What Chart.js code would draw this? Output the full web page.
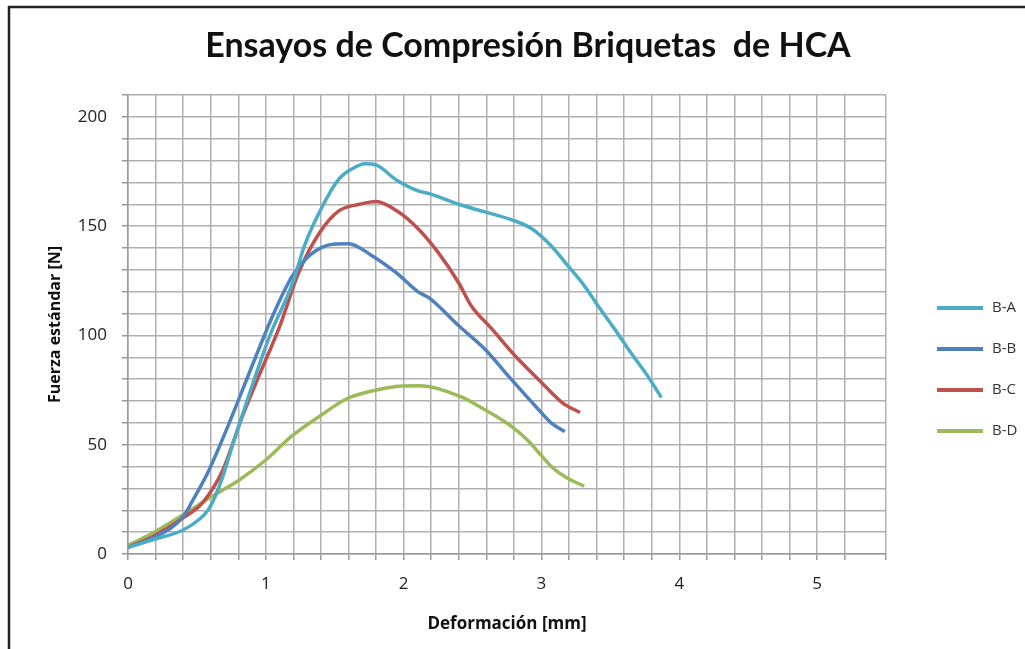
<!DOCTYPE html>
<html>
<head>
<meta charset="utf-8">
<script src="https://cdn.jsdelivr.net/npm/chart.js@4/dist/chart.umd.min.js"></script>
<style>
  html, body { margin: 0; padding: 0; background: #fff; }
  #wrap { width: 1025px; height: 649px; }
</style>
</head>
<body>
<div id="wrap"><canvas id="chart" width="1025" height="649"></canvas></div>
<script>
// Curves (deformation mm -> force N)
const seriesNames = ["B-A", "B-B", "B-C", "B-D"];
const seriesColors = ["#4bacc6", "#4f81bd", "#c0504d", "#9bbb59"];

const baX = [0, 0.18, 0.40, 0.52, 0.58, 0.63, 0.68, 0.75, 0.906, 1.03, 1.195, 1.28, 1.41, 1.53, 1.62, 1.72, 1.80, 1.95, 2.11, 2.18, 2.40, 2.59, 2.78, 2.93, 3.07, 3.19, 3.31, 3.41, 3.53, 3.65, 3.77, 3.87];
const baY = [3, 6.5, 11, 16, 20, 26, 34, 48, 78, 100, 124, 141, 159, 171.5, 176, 178.6, 178, 171, 166, 165, 160, 156.5, 153, 148.8, 141, 132, 122.8, 113.6, 103, 92, 81.5, 71.6];

const bbX = [0, 0.18, 0.40, 0.46, 0.59, 0.735, 0.90, 1.05, 1.19, 1.29, 1.41, 1.50, 1.60, 1.77, 1.95, 2.11, 2.18, 2.40, 2.59, 2.78, 2.98, 3.07, 3.17];
const bbY = [3, 7.3, 17, 23.4, 38.7, 60, 86, 109, 127, 135, 140.4, 141.8, 142, 136.5, 128.5, 119.7, 117.4, 104.4, 93.7, 80, 66, 60, 56];

const bcX = [0, 0.18, 0.40, 0.54, 0.69, 0.83, 0.95, 1.10, 1.24, 1.39, 1.53, 1.68, 1.80, 1.95, 2.11, 2.25, 2.40, 2.49, 2.64, 2.81, 3.00, 3.15, 3.28];
const bcY = [3, 8, 16.5, 23.4, 38.7, 63, 81.5, 104, 129, 147, 157, 160, 161.3, 157, 148.5, 138, 124, 113.6, 103, 90.6, 78.5, 69.3, 64.7];

const bdX = [0, 0.18, 0.42, 0.61, 0.81, 1.0, 1.19, 1.39, 1.58, 1.77, 1.99, 2.11, 2.40, 2.59, 2.78, 2.90, 3.00, 3.08, 3.18, 3.31];
const bdY = [4, 9.6, 18.8, 26.4, 34, 43, 54, 63, 70.8, 74.6, 76.9, 77, 72.3, 66, 58.5, 52, 45, 39.5, 35, 31];

const xTickLabels = ["0", "1", "2", "3", "4", "5"];
const yTickLabels = ["0", "50", "100", "150", "200"];

const chartTitle = "Ensayos de Compresión Briquetas  de HCA";
const xTitle = "Deformación [mm]";
const yTitle = "Fuerza estándar [N]";

function toPoints(xs, ys) {
  return xs.map((x, i) => ({ x, y: ys[i] }));
}

const seriesData = [toPoints(baX, baY), toPoints(bbX, bbY), toPoints(bcX, bcY), toPoints(bdX, bdY)];

// Frame, title and legend are drawn by hand so they can sit where Excel put them.
const decorations = {
  id: "decorations",
  beforeDraw(chart) {
    const ctx = chart.ctx;
    ctx.save();
    ctx.fillStyle = "#fff";
    ctx.fillRect(0, 0, chart.width, chart.height);
    ctx.strokeStyle = "#222";
    ctx.lineWidth = 2.5;
    ctx.beginPath();
    ctx.moveTo(9, chart.height);
    ctx.lineTo(9, 7);
    ctx.lineTo(chart.width, 7);
    ctx.stroke();
    ctx.restore();
  },
  afterDraw(chart) {
    const ctx = chart.ctx;
    ctx.save();
    ctx.fillStyle = "#111";
    ctx.font = "bold 34px Lato";
    ctx.textAlign = "center";
    ctx.textBaseline = "middle";
    ctx.fillText(chartTitle, 528, 46);

    ctx.font = "15px 'Open Sans'";
    ctx.textAlign = "left";
    chart.data.datasets.forEach((ds, i) => {
      const y = 308 + i * 41;
      ctx.strokeStyle = ds.borderColor;
      ctx.lineWidth = 4;
      ctx.beginPath();
      ctx.moveTo(937, y);
      ctx.lineTo(983, y);
      ctx.stroke();
      ctx.fillStyle = "#333";
      ctx.fillText(ds.label, 992, y);
    });
    ctx.restore();
  }
};

const isNear = (v, t) => Math.abs(v - t) < 1e-6;

new Chart(document.getElementById("chart"), {
  type: "line",
  data: {
    datasets: seriesNames.map((name, i) => ({
      label: name,
      data: seriesData[i],
      borderColor: seriesColors[i],
      backgroundColor: seriesColors[i],
      borderWidth: 3.5,
      pointRadius: 0,
      cubicInterpolationMode: "monotone",
      fill: false
    }))
  },
  options: {
    responsive: false,
    animation: false,
    layout: { padding: { left: 10, right: 139, top: 95, bottom: 0 } },
    plugins: {
      legend: { display: false },
      title: { display: false },
      tooltip: { enabled: false }
    },
    scales: {
      x: {
        type: "linear",
        min: 0,
        max: 5.5,
        afterFit: (scale) => { scale.height = 95; },
        border: { color: "#9a9a9a", width: 1.5 },
        grid: { color: "#b0b0b0", lineWidth: 1.5, tickLength: 6, tickColor: "#9a9a9a" },
        ticks: {
          stepSize: 0.2,
          autoSkip: false,
          maxRotation: 0,
          padding: 14,
          color: "#222",
          font: { family: "'Open Sans'", size: 17 },
          callback: (v) => {
            const i = xTickLabels.findIndex((t) => isNear(Number(t), v));
            return i >= 0 ? xTickLabels[i] : "";
          }
        },
        title: {
          display: true,
          text: xTitle,
          color: "#111",
          font: { family: "'Open Sans'", size: 17, weight: "bold" },
          padding: 15
        }
      },
      y: {
        min: 0,
        max: 210,
        afterFit: (scale) => { scale.width = 118; },
        border: { color: "#9a9a9a", width: 1.5 },
        grid: { color: "#b0b0b0", lineWidth: 1.5, tickLength: 6, tickColor: "#9a9a9a" },
        ticks: {
          stepSize: 10,
          autoSkip: false,
          padding: 15,
          color: "#222",
          font: { family: "'Open Sans'", size: 17 },
          callback: (v) => {
            const i = yTickLabels.findIndex((t) => isNear(Number(t), v));
            return i >= 0 ? yTickLabels[i] : "";
          }
        },
        title: {
          display: true,
          text: yTitle,
          color: "#111",
          font: { family: "'Open Sans'", size: 16, weight: "bold" },
          padding: 36
        }
      }
    }
  },
  plugins: [decorations]
});
</script>
</body>
</html>
